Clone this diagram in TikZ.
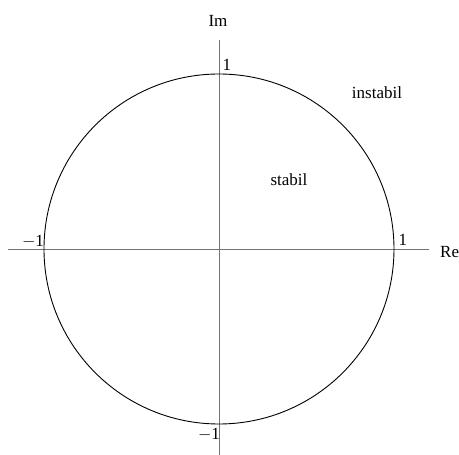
\documentclass[tikz,border=0pt]{standalone}
\usepackage{fontspec}
\setmainfont{Liberation Serif}
\usepackage{tikz}
\usetikzlibrary{positioning}

\begin{document}
\begin{tikzpicture}[
  x=1pt,y=1pt,
  axis/.style={draw=black!55,line width=0.9pt},
  unitcircle/.style={draw=black,line width=0.9pt},
  lbl/.style={inner sep=0pt,font=\fontsize{17}{20}\selectfont}
]
\useasboundingbox (-219,-206) rectangle (240,249);
\coordinate (O) at (0,0);
\coordinate (xl) at (-211,0);
\coordinate (xr) at (210,0);
\coordinate (yt) at (0,209);
\coordinate (yb) at (0,-212);
\draw[axis] (xl) -- (xr);
\draw[axis] (yb) -- (yt);
\draw[unitcircle] (O) circle (175);
\node[lbl] (im) at (-1,228) {Im};
\node[lbl,anchor=west] (re) at (221,-3) {Re};
\node[lbl] (top) at (8,184) {1};
\node[lbl] (right) at (184,9) {1};
\node[lbl] (left) at (-186,7) {$-$1};
\node[lbl] (bottom) at (-10,-186) {$-$1};
\node[lbl] (instabil) at (158,156) {instabil};
\node[lbl] (stabil) at (70,69) {stabil};
\end{tikzpicture}
\end{document}
